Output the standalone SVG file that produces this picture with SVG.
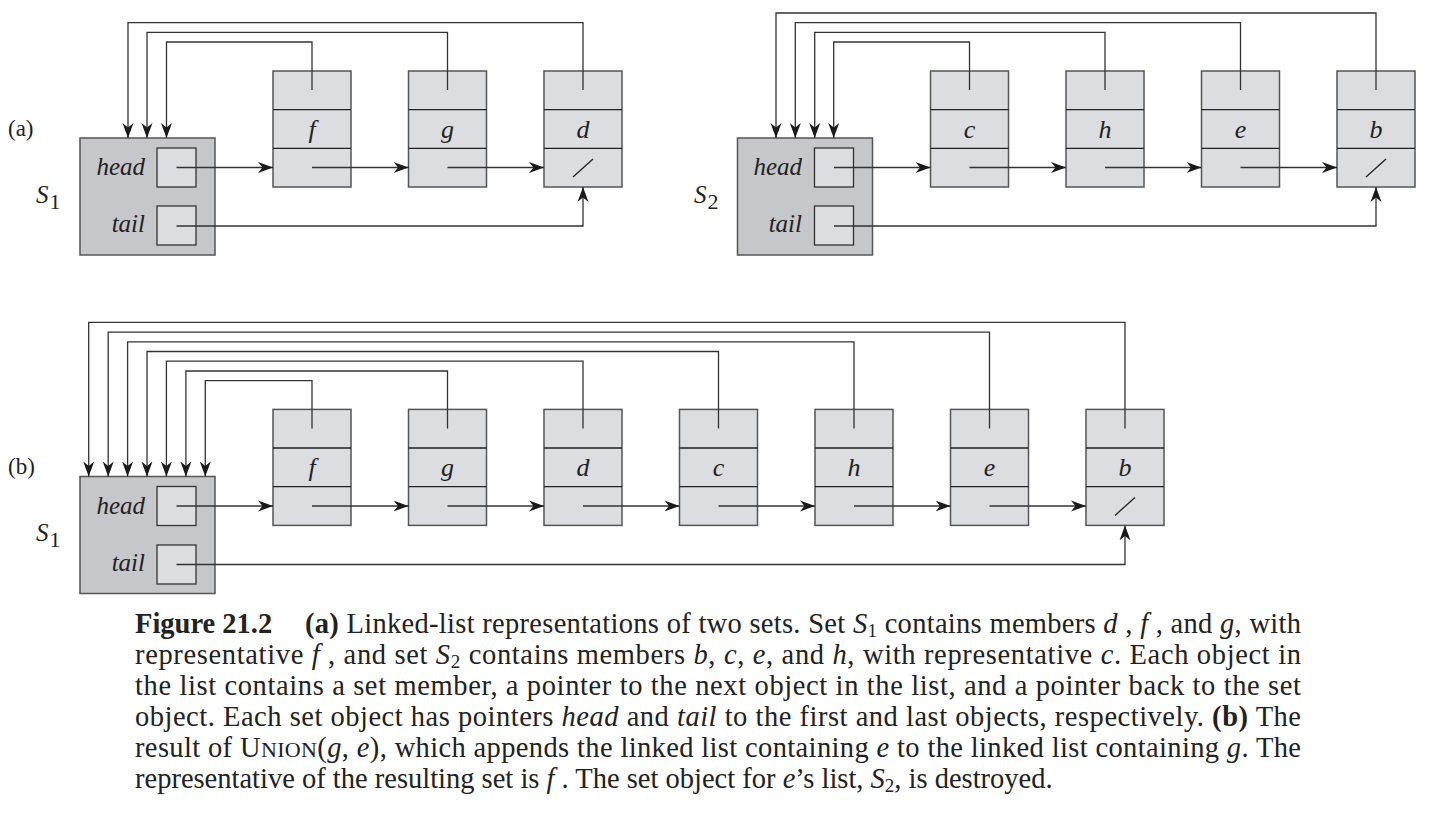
<svg xmlns="http://www.w3.org/2000/svg" width="1430" height="826" viewBox="0 0 1430 826">
<defs>
<marker id="arr" markerUnits="userSpaceOnUse" markerWidth="16" markerHeight="12" refX="15" refY="6" orient="auto">
<path d="M15,6 L0,0.5 L4.5,6 L0,11.5 Z" fill="#1a1a1a"/>
</marker>
<style>
.set{fill:#c6c7ca;stroke:#555;stroke-width:1.5}
.inner{fill:#dcdde0;stroke:#333;stroke-width:1.3}
.el{fill:#dcdde0;stroke:#555;stroke-width:1.5}
.div{stroke:#222;stroke-width:1.3;fill:none}
.ar{stroke:#333;stroke-width:1.3;fill:none;marker-end:url(#arr)}
.lbl{font-family:"Liberation Serif",serif;font-style:italic;font-size:25px;fill:#222}
.mem{font-family:"Liberation Serif",serif;font-style:italic;font-size:26px;fill:#222;text-anchor:middle}
.tag{font-family:"Liberation Serif",serif;font-size:23px;fill:#222}
.cap{font-family:"Liberation Serif",serif;font-size:28.5px;fill:#222}
.i{font-style:italic}
.b{font-weight:bold}
</style>
</defs>
<rect width="1430" height="826" fill="#fff"/>

<!-- labels -->
<text class="tag" x="8" y="136">(a)</text>
<text class="tag" x="8" y="474">(b)</text>

<!-- (a) S1 -->
<g id="a-S1">
<rect class="set" x="80" y="138" width="135" height="117"/>
<rect class="inner" x="157" y="148" width="39" height="39"/>
<rect class="inner" x="157" y="206" width="39" height="39"/>
<text class="lbl" x="145" y="175" text-anchor="end">head</text>
<text class="lbl" x="145" y="232" text-anchor="end">tail</text>
<text class="lbl" x="36" y="203" font-size="27">S<tspan font-style="normal" font-size="22" dx="1" dy="6">1</tspan></text>
</g>
<g id="a-f"><rect class="el" x="273" y="71" width="78" height="116"/><path class="div" d="M273,109.7H351M273,148.3H351"/><text class="mem" x="312" y="138">f</text></g>
<g id="a-g"><rect class="el" x="408.5" y="71" width="78" height="116"/><path class="div" d="M408.5,109.7H486.5M408.5,148.3H486.5"/><text class="mem" x="447.5" y="138">g</text></g>
<g id="a-d"><rect class="el" x="544" y="71" width="78" height="116"/><path class="div" d="M544,109.7H622M544,148.3H622"/><text class="mem" x="583" y="138">d</text><path class="div" d="M573,177L593,159"/></g>

<!-- (a) S2 -->
<g id="a-S2">
<rect class="set" x="737.5" y="138" width="135" height="117"/>
<rect class="inner" x="814.5" y="148" width="39" height="39"/>
<rect class="inner" x="814.5" y="206" width="39" height="39"/>
<text class="lbl" x="802" y="175" text-anchor="end">head</text>
<text class="lbl" x="802" y="232" text-anchor="end">tail</text>
<text class="lbl" x="694" y="203" font-size="27">S<tspan font-style="normal" font-size="22" dx="1" dy="6">2</tspan></text>
</g>
<g id="a-c"><rect class="el" x="930.5" y="71" width="78" height="116"/><path class="div" d="M930.5,109.7H1008.5M930.5,148.3H1008.5"/><text class="mem" x="969.5" y="138">c</text></g>
<g id="a-h"><rect class="el" x="1066" y="71" width="78" height="116"/><path class="div" d="M1066,109.7H1144M1066,148.3H1144"/><text class="mem" x="1105" y="138">h</text></g>
<g id="a-e"><rect class="el" x="1201.5" y="71" width="78" height="116"/><path class="div" d="M1201.5,109.7H1279.5M1201.5,148.3H1279.5"/><text class="mem" x="1240.5" y="138">e</text></g>
<g id="a-b"><rect class="el" x="1337" y="71" width="78" height="116"/><path class="div" d="M1337,109.7H1415M1337,148.3H1415"/><text class="mem" x="1376" y="138">b</text><path class="div" d="M1366,177L1386,159"/></g>

<!-- (b) S1 -->
<g id="b-S1">
<rect class="set" x="80" y="476.5" width="135" height="117"/>
<rect class="inner" x="157" y="486.5" width="39" height="39"/>
<rect class="inner" x="157" y="545" width="39" height="39"/>
<text class="lbl" x="145" y="513.5" text-anchor="end">head</text>
<text class="lbl" x="145" y="570.5" text-anchor="end">tail</text>
<text class="lbl" x="36" y="541" font-size="27">S<tspan font-style="normal" font-size="22" dx="1" dy="6">1</tspan></text>
</g>
<g id="b-f"><rect class="el" x="273" y="409.4" width="78" height="116"/><path class="div" d="M273,448H351M273,486.7H351"/><text class="mem" x="312" y="476">f</text></g>
<g id="b-g"><rect class="el" x="408.5" y="409.4" width="78" height="116"/><path class="div" d="M408.5,448H486.5M408.5,486.7H486.5"/><text class="mem" x="447.5" y="476">g</text></g>
<g id="b-d"><rect class="el" x="544" y="409.4" width="78" height="116"/><path class="div" d="M544,448H622M544,486.7H622"/><text class="mem" x="583" y="476">d</text></g>
<g id="b-c"><rect class="el" x="679.5" y="409.4" width="78" height="116"/><path class="div" d="M679.5,448H757.5M679.5,486.7H757.5"/><text class="mem" x="718.5" y="476">c</text></g>
<g id="b-h"><rect class="el" x="815" y="409.4" width="78" height="116"/><path class="div" d="M815,448H893M815,486.7H893"/><text class="mem" x="854" y="476">h</text></g>
<g id="b-e"><rect class="el" x="950.5" y="409.4" width="78" height="116"/><path class="div" d="M950.5,448H1028.5M950.5,486.7H1028.5"/><text class="mem" x="989.5" y="476">e</text></g>
<g id="b-b"><rect class="el" x="1086" y="409.4" width="78" height="116"/><path class="div" d="M1086,448H1164M1086,486.7H1164"/><text class="mem" x="1125" y="476">b</text><path class="div" d="M1115,515.4L1135,497.4"/></g>

<!-- connectors -->
<g id="connectors">
<path class="ar" d="M312,90V42H166.5V138"/>
<path class="ar" d="M447.5,90V32.3H147V138"/>
<path class="ar" d="M583,90V22.7H128V138"/>
<path class="ar" d="M176.5,167.5H273"/>
<path class="ar" d="M312,167.5H408.5"/>
<path class="ar" d="M447.5,167.5H544"/>
<path class="ar" d="M176.5,226H583V187"/>
<path class="ar" d="M969.5,90V42H833.7V138"/>
<path class="ar" d="M1105,90V32.3H814.7V138"/>
<path class="ar" d="M1240.5,90V22.7H795.3V138"/>
<path class="ar" d="M1376,90V13H776V138"/>
<path class="ar" d="M834,167.5H930.5"/>
<path class="ar" d="M969.5,167.5H1066"/>
<path class="ar" d="M1105,167.5H1201.5"/>
<path class="ar" d="M1240.5,167.5H1337"/>
<path class="ar" d="M834,226H1376V187"/>
<path class="ar" d="M312,428.4V380.7H205.3V476.5"/>
<path class="ar" d="M447.5,428.4V371H185.9V476.5"/>
<path class="ar" d="M583,428.4V361.2H166.4V476.5"/>
<path class="ar" d="M718.5,428.4V351.5H147V476.5"/>
<path class="ar" d="M854,428.4V341.8H127.6V476.5"/>
<path class="ar" d="M989.5,428.4V332.1H108.2V476.5"/>
<path class="ar" d="M1125,428.4V322.3H88.7V476.5"/>
<path class="ar" d="M176.5,506H273"/>
<path class="ar" d="M312,506H408.5"/>
<path class="ar" d="M447.5,506H544"/>
<path class="ar" d="M583,506H679.5"/>
<path class="ar" d="M718.5,506H815"/>
<path class="ar" d="M854,506H950.5"/>
<path class="ar" d="M989.5,506H1086"/>
<path class="ar" d="M176.5,564.5H1125V525.4"/>
</g>

<!-- caption -->
<g id="caption">
<text class="cap b" x="135" y="633">Figure 21.2</text>
<text class="cap" x="305" y="633" textLength="996" lengthAdjust="spacing"><tspan class="b">(a)</tspan> Linked-list representations of two sets. Set <tspan class="i">S</tspan><tspan font-size="19" dy="4">1</tspan><tspan dy="-4"> contains members </tspan><tspan class="i">d</tspan> , <tspan class="i">f</tspan> , and <tspan class="i">g</tspan>, with</text>
<text class="cap" x="135" y="664" textLength="1166" lengthAdjust="spacing">representative <tspan class="i">f</tspan> , and set <tspan class="i">S</tspan><tspan font-size="19" dy="4">2</tspan><tspan dy="-4"> contains members </tspan><tspan class="i">b</tspan>, <tspan class="i">c</tspan>, <tspan class="i">e</tspan>, and <tspan class="i">h</tspan>, with representative <tspan class="i">c</tspan>. Each object in</text>
<text class="cap" x="135" y="695" textLength="1166" lengthAdjust="spacing">the list contains a set member, a pointer to the next object in the list, and a pointer back to the set</text>
<text class="cap" x="135" y="726" textLength="1166" lengthAdjust="spacing">object. Each set object has pointers <tspan class="i">head</tspan> and <tspan class="i">tail</tspan> to the first and last objects, respectively. <tspan class="b">(b)</tspan> The</text>
<text class="cap" x="135" y="757" textLength="1166" lengthAdjust="spacing">result of U<tspan font-size="22">NION</tspan>(<tspan class="i">g</tspan>, <tspan class="i">e</tspan>), which appends the linked list containing <tspan class="i">e</tspan> to the linked list containing <tspan class="i">g</tspan>. The</text>
<text class="cap" x="135" y="788">representative of the resulting set is <tspan class="i">f</tspan> . The set object for <tspan class="i">e</tspan>’s list, <tspan class="i">S</tspan><tspan font-size="19" dy="4">2</tspan><tspan dy="-4">, is destroyed.</tspan></text>
</g>
</svg>
